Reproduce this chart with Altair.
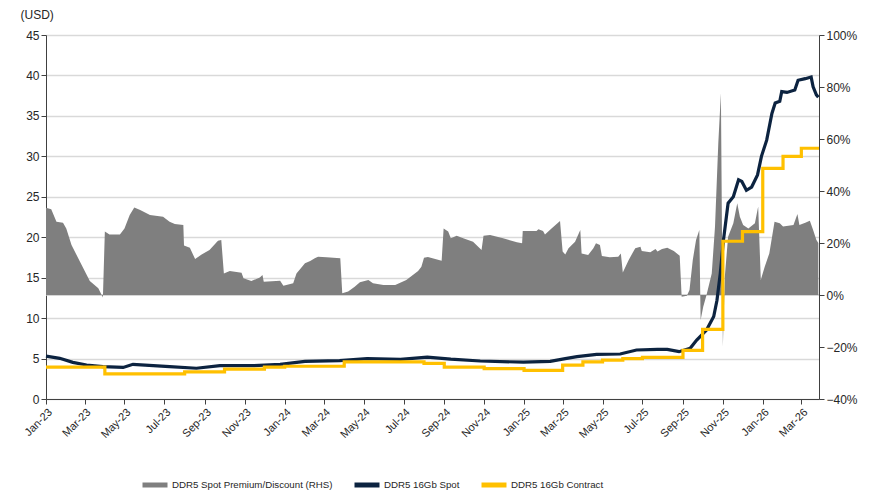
import altair as alt
import pandas as pd

# ---------------- data ----------------
prem_dates = [
    "2023-01-01", "2023-01-09", "2023-01-17", "2023-01-27", "2023-02-01", "2023-02-09", "2023-02-22",
    "2023-03-09", "2023-03-22", "2023-03-29", "2023-04-01", "2023-04-08", "2023-04-24", "2023-05-01",
    "2023-05-09", "2023-05-16", "2023-05-25", "2023-06-09", "2023-06-29", "2023-07-09", "2023-07-17",
    "2023-07-30", "2023-07-31", "2023-08-09", "2023-08-17", "2023-08-27", "2023-09-08", "2023-09-21",
    "2023-09-26", "2023-09-30", "2023-10-09", "2023-10-27", "2023-10-30", "2023-11-11", "2023-11-24",
    "2023-11-28", "2023-11-30", "2023-12-25", "2023-12-30", "2024-01-14", "2024-01-19", "2024-02-01",
    "2024-02-09", "2024-02-16", "2024-02-21", "2024-03-05", "2024-03-26", "2024-03-29", "2024-04-07",
    "2024-04-17", "2024-04-25", "2024-05-08", "2024-05-15", "2024-05-31", "2024-06-18", "2024-07-05",
    "2024-07-23", "2024-07-28", "2024-08-01", "2024-08-07", "2024-08-28", "2024-08-31", "2024-09-07",
    "2024-09-11", "2024-09-20", "2024-09-30", "2024-10-15", "2024-10-28", "2024-10-31", "2024-11-10",
    "2024-11-30", "2024-12-21", "2024-12-29", "2024-12-30", "2025-01-20", "2025-01-23", "2025-01-30",
    "2025-02-02", "2025-02-12", "2025-02-25", "2025-03-01", "2025-03-05", "2025-03-10", "2025-03-20",
    "2025-03-28", "2025-03-30", "2025-04-09", "2025-04-17", "2025-04-21", "2025-04-27", "2025-04-30",
    "2025-05-12", "2025-05-25", "2025-05-29", "2025-06-01", "2025-06-10", "2025-06-20", "2025-06-28",
    "2025-06-30", "2025-07-13", "2025-07-21", "2025-07-24", "2025-07-31", "2025-08-08", "2025-08-18",
    "2025-08-27", "2025-08-30", "2025-09-07", "2025-09-11", "2025-09-16", "2025-09-21", "2025-09-26",
    "2025-09-28", "2025-10-02", "2025-10-07", "2025-10-15", "2025-10-20", "2025-10-25", "2025-10-29",
    "2025-11-01", "2025-11-04", "2025-11-09", "2025-11-17", "2025-11-23", "2025-11-27", "2025-12-02",
    "2025-12-10", "2025-12-20", "2025-12-25", "2025-12-29", "2026-01-04", "2026-01-11", "2026-01-19",
    "2026-01-27", "2026-02-01", "2026-02-17", "2026-02-23", "2026-02-26", "2026-03-07", "2026-03-14",
    "2026-03-19", "2026-03-24", "2026-03-27",
]
prem_pct = [
    33.6, 33.0, 28.2, 27.8, 25.6, 19.2, 12.8,
    5.4, 2.6, -1.0, 24.4, 23.3, 23.3, 25.6,
    30.8, 33.7, 32.7, 30.8, 30.1, 28.2, 27.3,
    26.9, 19.0, 18.2, 13.8, 15.6, 17.3, 20.9,
    21.2, 8.3, 9.2, 8.6, 6.4, 5.4, 6.7,
    7.7, 5.1, 5.5, 3.6, 4.5, 8.3, 12.2,
    13.1, 14.1, 14.7, 14.5, 14.1, 0.7, 1.3,
    3.2, 4.9, 5.8, 4.5, 3.8, 3.8, 5.8,
    9.2, 10.9, 14.3, 14.6, 13.2, 25.6, 24.4,
    21.8, 22.8, 21.8, 20.5, 17.3, 22.8, 23.1,
    21.8, 20.3, 19.9, 24.6, 24.6, 25.3, 24.6,
    23.3, 25.6, 28.5, 16.7, 15.6, 18.0, 20.5,
    25.0, 16.0, 15.4, 18.0, 19.9, 19.2, 15.0,
    14.5, 14.7, 16.0, 8.7, 13.5, 18.0, 18.6,
    16.9, 16.4, 17.7, 16.7, 17.7, 18.2, 16.9,
    15.1, -0.7, -0.3, 1.9, 13.5, 21.2, 25.0,
    -9.6, -4.5, 0.0, 8.3, 26.3, 58.3, 77.6,
    -19.9, 7.1, 22.4, 27.6, 35.3, 30.1, 26.9,
    25.6, 27.6, 34.0, 5.8, 10.9, 16.0, 28.2,
    27.6, 26.3, 26.9, 31.2, 26.9, 27.8, 28.6,
    25.0, 21.2, 20.0,
]

spot_dates = [
    "2023-01-01", "2023-01-22", "2023-02-11", "2023-03-04", "2023-03-29", "2023-04-29", "2023-05-14",
    "2023-06-14", "2023-07-09", "2023-08-19", "2023-09-24", "2023-11-14", "2023-12-25", "2024-02-01",
    "2024-03-25", "2024-05-06", "2024-06-26", "2024-08-06", "2024-09-11", "2024-10-26", "2024-12-31",
    "2025-02-10", "2025-03-05", "2025-03-23", "2025-04-22", "2025-05-28", "2025-06-22", "2025-07-24",
    "2025-08-08", "2025-08-26", "2025-09-12", "2025-09-22", "2025-10-07", "2025-10-18", "2025-10-23",
    "2025-10-28", "2025-11-02", "2025-11-09", "2025-11-17", "2025-11-25", "2025-11-30", "2025-12-07",
    "2025-12-15", "2025-12-24", "2025-12-30", "2026-01-07", "2026-01-15", "2026-01-20", "2026-01-27",
    "2026-01-30", "2026-02-07", "2026-02-19", "2026-02-24", "2026-03-07", "2026-03-16", "2026-03-19",
    "2026-03-24", "2026-03-27",
]
spot_usd = [
    5.3, 5.03, 4.53, 4.2, 4.0, 3.9, 4.29,
    4.12, 4.0, 3.8, 4.12, 4.12, 4.29, 4.65,
    4.75, 5.0, 4.9, 5.17, 4.92, 4.7, 4.55,
    4.65, 5.0, 5.23, 5.52, 5.56, 6.06, 6.14,
    6.14, 5.85, 6.27, 7.29, 8.53, 10.2, 12.2,
    15.5, 19.7, 24.2, 25.0, 27.1, 26.9, 25.8,
    26.2, 27.7, 30.0, 32.0, 35.3, 36.6, 36.8,
    38.0, 37.9, 38.2, 39.4, 39.6, 39.8, 38.6,
    37.6, 37.3,
]

contract_dates = [
    "2023-01-01", "2023-04-01", "2023-08-01", "2023-10-01", "2023-12-01", "2024-01-01", "2024-04-01",
    "2024-08-01", "2024-09-01", "2024-11-01", "2025-01-01", "2025-03-01", "2025-04-01", "2025-05-01",
    "2025-06-01", "2025-07-01", "2025-09-01", "2025-10-01", "2025-11-01", "2025-12-01", "2026-01-01",
    "2026-02-01", "2026-03-01", "2026-03-28",
]
contract_usd = [
    3.95, 3.1, 3.35, 3.7, 3.95, 4.05, 4.6,
    4.4, 3.95, 3.75, 3.55, 4.2, 4.6, 4.8,
    5.0, 5.15, 6.0, 8.6, 19.5, 20.7, 28.5,
    30.0, 31.0, 31.0,
]

series_names = ["DDR5 Spot Premium/Discount (RHS)", "DDR5 16Gb Spot", "DDR5 16Gb Contract"]
series_colors = ["#7f7f7f", "#0c2340", "#ffc000"]

left_ticks = [0, 5, 10, 15, 20, 25, 30, 35, 40, 45]
right_ticks = [-0.4, -0.2, 0.0, 0.2, 0.4, 0.6, 0.8, 1.0]

# ---------------- frames ----------------
prem_df = pd.DataFrame({"date": prem_dates, "v": [p / 100 for p in prem_pct], "s": series_names[0]})
spot_df = pd.DataFrame({"date": spot_dates, "v": spot_usd, "s": series_names[1]})
contract_df = pd.DataFrame({"date": contract_dates, "v": contract_usd, "s": series_names[2]})
zero_df = pd.DataFrame({"v": [0.0]})

x_enc = alt.X(
    "date:T",
    scale=alt.Scale(
        type="utc",
        domain=[alt.DateTime(year=2023, month=1, date=1, utc=True),
                alt.DateTime(year=2026, month=3, date=28, utc=True)],
    ),
    axis=alt.Axis(
        tickCount={"interval": "month", "step": 2},
        labelExpr="utcFormat(datum.value, '%b-%y')",
        labelAngle=-45,
        labelFontSize=11,
        labelColor="#262626",
        tickSize=5,
        tickColor="#404040",
        domainColor="#404040",
        grid=False,
        title=None,
        labelPadding=2,
        labelOverlap=False,
        labelFlush=False,
    ),
)

color_enc = alt.Color(
    "s:N",
    scale=alt.Scale(domain=series_names, range=series_colors),
    legend=alt.Legend(
        title=None,
        orient="none",
        direction="horizontal",
        legendX=94,
        legendY=435,
        symbolType="stroke",
        symbolStrokeWidth=5,
        symbolSize=625,
        labelFont="Liberation Sans",
        labelFontSize=9.7,
        labelColor="#262626",
        labelLimit=0,
        columnPadding=11,
        labelOffset=2,
        padding=0,
    ),
)

right_scale = alt.Scale(domain=[-0.4, 1.0], nice=False, zero=False)
left_scale = alt.Scale(domain=[0, 45], nice=False)

zero_rule = alt.Chart(zero_df).mark_rule(color="#c8c8c8", strokeWidth=1.5).encode(
    y=alt.Y("v:Q", scale=right_scale, axis=None)
)

area = alt.Chart(prem_df).mark_area(opacity=1).encode(
    x=x_enc,
    y=alt.Y(
        "v:Q",
        scale=right_scale,
        axis=alt.Axis(
            orient="right",
            values=right_ticks,
            format=".0%",
            grid=False,
            labelFontSize=12,
            labelColor="#262626",
            tickSize=5,
            tickColor="#404040",
            domainColor="#404040",
            title=None,
        ),
    ),
    y2=alt.datum(0),
    color=color_enc,
)

spot = alt.Chart(spot_df).mark_line(strokeWidth=3.2, interpolate="linear").encode(
    x=x_enc,
    y=alt.Y(
        "v:Q",
        scale=left_scale,
        axis=alt.Axis(
            orient="left",
            values=left_ticks,
            grid=True,
            gridColor="#d9d9d9",
            gridWidth=1.5,
            labelFontSize=12,
            labelColor="#262626",
            tickSize=5,
            tickColor="#404040",
            domainColor="#404040",
            title="(USD)",
            titleAngle=0,
            titleAlign="left",
            titleBaseline="middle",
            titleX=-26,
            titleY=-21,
            titleFontSize=12,
            titleFontWeight="normal",
            titleColor="#262626",
        ),
    ),
    color=color_enc,
)

contract = alt.Chart(contract_df).mark_line(strokeWidth=3.2, interpolate="step-after").encode(
    x=x_enc,
    y=alt.Y("v:Q", scale=left_scale, axis=None),
    color=color_enc,
)

chart = (
    alt.layer(zero_rule, area, spot, contract)
    .resolve_scale(y="independent")
    .properties(
        width=773,
        height=364,
        padding={"left": 38, "top": 27, "right": 44, "bottom": 95},
        autosize=alt.AutoSizeParams(type="none"),
    )
    .configure_view(stroke=None)
    .configure_axis(labelFont="Liberation Sans", titleFont="Liberation Sans")
)

chart.save("out.html", embed_options={"renderer": "svg", "actions": False})
